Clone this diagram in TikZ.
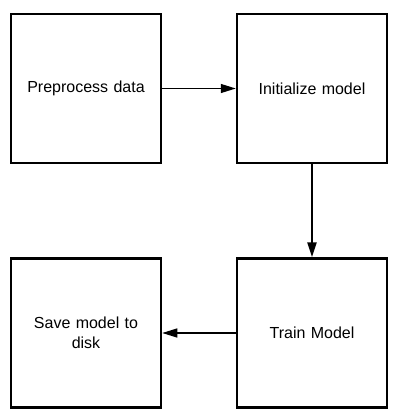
\documentclass[tikz,border=0pt]{standalone}
\usepackage{fontspec}
\setmainfont{Liberation Sans}
\usetikzlibrary{arrows.meta}
\begin{document}
\begin{tikzpicture}[x=1pt,y=-1pt,
  stepbox/.style={draw=black,line width=2.5pt,minimum width=150pt,minimum height=149pt,inner sep=0pt,
    font=\fontsize{16}{20}\selectfont,align=center,text width=140pt},
  harrow/.style={line width=1.3pt,-{Triangle[length=15pt,width=9pt]}},
  varrow/.style={line width=2.5pt,-{Triangle[length=15pt,width=9pt]}}]
\useasboundingbox (0,0) rectangle (400,419);
\node[stepbox] (pre) at (86,88.5) {Preprocess data};
\node[stepbox] (init) at (312,88.5) {Initialize model};
\node[stepbox] (train) at (312,333) {Train Model};
\node[stepbox] (save) at (86,333) {Save model to\\disk};
\draw[harrow] (pre.east) -- (init.west);
\draw[varrow] (init.south) -- (train.north);
\draw[harrow] (train.west) -- (save.east);
\end{tikzpicture}
\end{document}
